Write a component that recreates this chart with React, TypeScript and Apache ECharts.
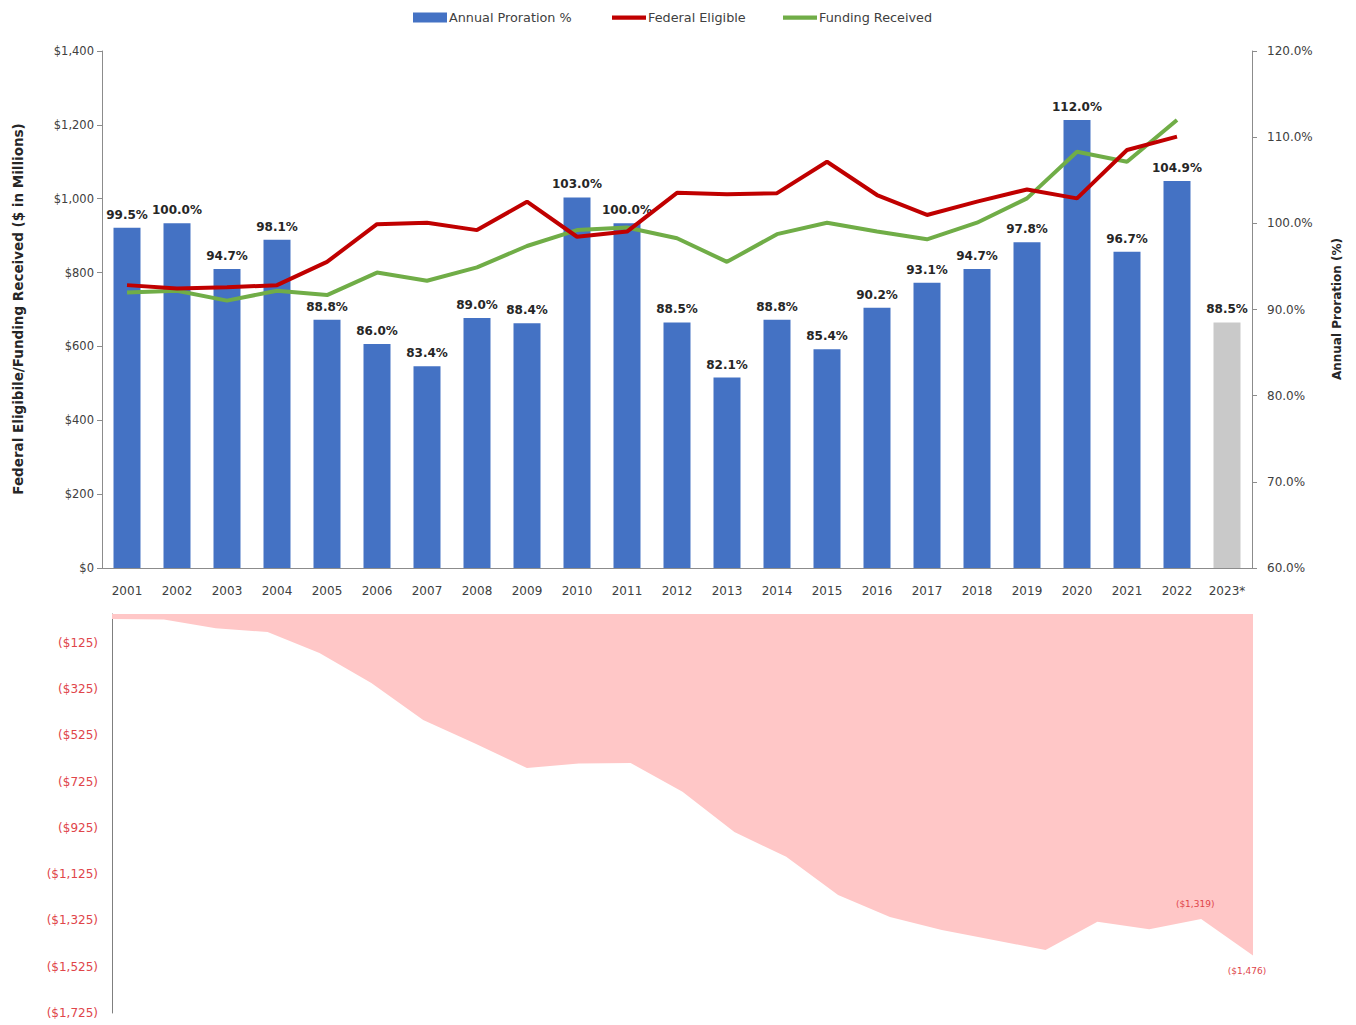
import React, { useEffect, useRef } from "react";
import * as echarts from "echarts";

const years = ["2001","2002","2003","2004","2005","2006","2007","2008","2009","2010","2011","2012","2013","2014","2015","2016","2017","2018","2019","2020","2021","2022","2023*"];
const prorationPct = [99.5,100.0,94.7,98.1,88.8,86.0,83.4,89.0,88.4,103.0,100.0,88.5,82.1,88.8,85.4,90.2,93.1,94.7,97.8,112.0,96.7,104.9,88.5];
const federalEligible = [766,757,760,766,829,931,935,915,992,897,911,1016,1012,1015,1100,1010,956,992,1025,1001,1132,1168,null];
const fundingReceived = [746,751,724,751,739,800,778,814,872,915,922,893,829,904,935,911,890,935,1001,1127,1100,1213,null];
const cumulativeShortfall = [-22,-24,-62,-78,-169,-298,-458,-560,-666,-646,-644,-769,-942,-1050,-1215,-1310,-1366,-1409,-1453,-1330,-1363,-1319,-1476];
const shortfallTicks = [-125,-325,-525,-725,-925,-1125,-1325,-1525,-1725];
const labelledShortfall: Record<number, "top" | "bottom"> = { 21: "top", 22: "bottom" };
const projectedIndex = 22;

const FONT = "DejaVu Sans";
const LINE_ICON = "path://M0,0 L40,0 L40,5 L0,5 Z";

export default function App() {
  const ref = useRef<HTMLDivElement>(null);
  useEffect(() => {
    if (!ref.current) return;
    const chart = echarts.init(ref.current, null, { renderer: "svg" });
    const money = (v: number) => "$" + v.toLocaleString("en-US");
    const neg = (v: number) => "($" + Math.abs(v).toLocaleString("en-US") + ")";
    const legendBase = {
      top: 6,
      itemWidth: 34,
      itemHeight: 10,
      textStyle: { fontFamily: FONT, fontSize: 12.8, color: "#404040", padding: [0, 0, 0, -3] },
    };
    const option: any = {
      animation: false,
      backgroundColor: "#ffffff",
      textStyle: { fontFamily: FONT },
      legend: [
        { ...legendBase, left: 408, data: [{ name: "Annual Proration %", icon: "rect" }] },
        { ...legendBase, left: 607, data: [{ name: "Federal Eligible", icon: LINE_ICON }] },
        { ...legendBase, left: 778, data: [{ name: "Funding Received", icon: LINE_ICON }] },
      ],
      grid: [
        { left: 102, right: 104, top: 51, bottom: 457 },
        { left: 112, right: 103, top: 614, bottom: 12 },
      ],
      xAxis: [
        {
          type: "category",
          gridIndex: 0,
          data: years,
          axisLine: { lineStyle: { color: "#8c8c8c" } },
          axisTick: { show: false },
          axisLabel: { color: "#404040", fontSize: 12, margin: 17, fontFamily: FONT },
        },
        {
          type: "category",
          gridIndex: 1,
          data: years,
          boundaryGap: false,
          show: false,
        },
      ],
      yAxis: [
        {
          type: "value",
          gridIndex: 0,
          min: 0,
          max: 1400,
          interval: 200,
          splitLine: { show: false },
          axisLine: { show: true, lineStyle: { color: "#8c8c8c" } },
          axisTick: { show: true, length: 5, lineStyle: { color: "#8c8c8c" } },
          axisLabel: { color: "#404040", fontSize: 11.5, margin: 8, formatter: money, fontFamily: FONT },
        },
        {
          type: "value",
          gridIndex: 0,
          position: "right",
          min: 60,
          max: 120,
          interval: 10,
          splitLine: { show: false },
          axisLine: { show: true, lineStyle: { color: "#8c8c8c" } },
          axisTick: { show: true, length: 5, lineStyle: { color: "#8c8c8c" } },
          axisLabel: { color: "#404040", fontSize: 12, margin: 15, formatter: (v: number) => v.toFixed(1) + "%", fontFamily: FONT },
        },
        {
          type: "value",
          gridIndex: 1,
          min: -1725,
          max: 0,
          splitLine: { show: false },
          axisLine: { show: true, lineStyle: { color: "#7f7f7f" } },
          axisTick: { show: false, customValues: shortfallTicks },
          axisLabel: {
            customValues: shortfallTicks,
            color: "#E0454A",
            fontSize: 12,
            margin: 14,
            formatter: neg,
            fontFamily: FONT,
          },
        },
      ],
      series: [
        {
          name: "Annual Proration %",
          type: "bar",
          xAxisIndex: 0,
          yAxisIndex: 1,
          barWidth: "54%",
          itemStyle: { color: "#4472C4" },
          label: {
            show: true,
            position: "top",
            distance: 7,
            fontFamily: FONT,
            fontWeight: "bold",
            fontSize: 12,
            color: "#262626",
            formatter: (p: any) => Number(p.value).toFixed(1) + "%",
          },
          data: prorationPct.map((v, i) =>
            i === projectedIndex ? { value: v, itemStyle: { color: "#C9C9C9" } } : v
          ),
          z: 2,
        },
        {
          name: "Federal Eligible",
          type: "line",
          xAxisIndex: 0,
          yAxisIndex: 0,
          symbol: "none",
          lineStyle: { color: "#C00000", width: 4 },
          itemStyle: { color: "#C00000" },
          data: federalEligible,
          z: 4,
        },
        {
          name: "Funding Received",
          type: "line",
          xAxisIndex: 0,
          yAxisIndex: 0,
          symbol: "none",
          lineStyle: { color: "#70AD47", width: 4 },
          itemStyle: { color: "#70AD47" },
          data: fundingReceived,
          z: 3,
        },
        {
          name: "Cumulative Shortfall",
          type: "line",
          xAxisIndex: 1,
          yAxisIndex: 2,
          symbol: "circle",
          symbolSize: 1,
          showSymbol: true,
          lineStyle: { width: 0, color: "#FFC7C7" },
          itemStyle: { color: "rgba(255,199,199,0)" },
          areaStyle: { color: "#FFC7C7", opacity: 1, origin: "end" },
          data: cumulativeShortfall.map((v, i) => {
            const pos = labelledShortfall[i];
            if (!pos) return v;
            return {
              value: v,
              label: {
                show: true,
                position: pos,
                distance: pos === "top" ? 10 : 11,
                offset: [-6, 0],
                color: "#E0454A",
                fontSize: 9,
                fontFamily: FONT,
                formatter: (p: any) => neg(p.value),
              },
            };
          }),
          z: 1,
        },
      ],
      graphic: [
        {
          type: "text",
          x: 18,
          y: 309,
          rotation: Math.PI / 2,
          style: {
            text: "Federal Eligibile/Funding Received ($ in Millions)",
            fontFamily: FONT,
            fontWeight: "bold",
            fontSize: 13.5,
            fill: "#262626",
            align: "center",
            verticalAlign: "middle",
          },
        },
        {
          type: "text",
          x: 1337,
          y: 309,
          rotation: Math.PI / 2,
          style: {
            text: "Annual Proration (%)",
            fontFamily: FONT,
            fontWeight: "bold",
            fontSize: 12,
            fill: "#262626",
            align: "center",
            verticalAlign: "middle",
          },
        },
      ],
    };
    chart.setOption(option);
    return () => chart.dispose();
  }, []);
  return (
    <div
      ref={ref}
      style={{ position: "absolute", left: 0, top: 0, width: 1356, height: 1025 }}
    />
  );
}
